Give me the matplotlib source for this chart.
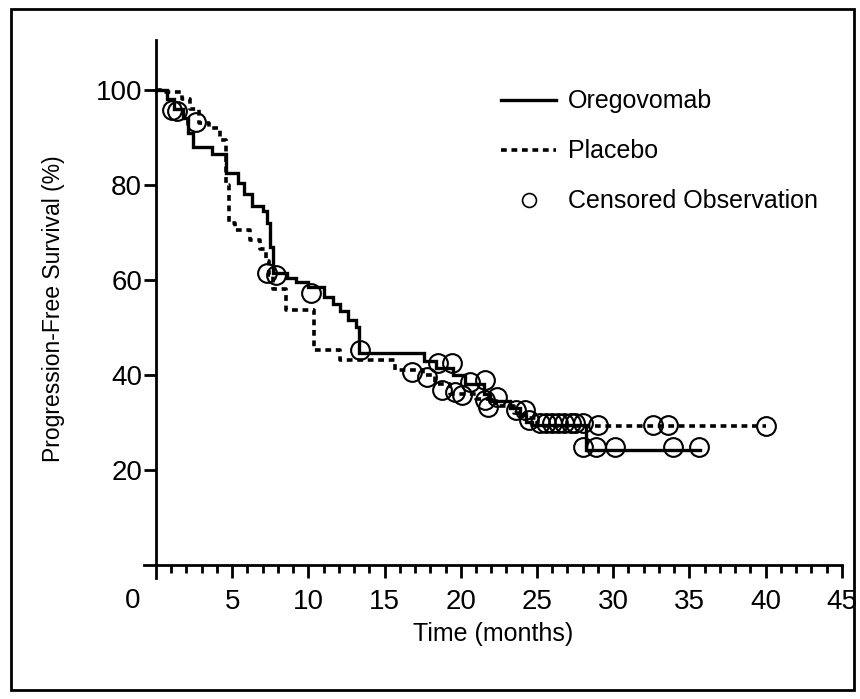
import matplotlib.pyplot as plt
from matplotlib.lines import Line2D
from matplotlib.patches import Rectangle


# Kaplan-Meier steps: time (months) where the curve changes, and level after it
OREGO_TIMES = [0, 0.7, 1.2, 1.8, 2.1, 2.4, 3.7, 4.6, 5.4, 5.8, 6.3, 7.0, 7.3,
               7.5, 7.7, 8.6, 9.2, 10.0, 11.0, 11.6, 12.1, 12.6, 13.1, 13.3,
               17.6, 18.4, 19.5, 20.3, 21.5, 21.9, 23.2, 23.9, 24.3, 24.7,
               28.2, 35.7]
OREGO_PFS = [100, 98, 96, 94, 91, 88, 86.5, 82.5, 80.5, 78, 75.5, 74.5, 72,
             67, 61.5, 60.5, 59.5, 58.5, 56.5, 55, 53.5, 51.5, 50, 44.7,
             43, 41.5, 40, 38, 36, 34.5, 33, 31.5, 30, 29.5,
             24.3, 24.3]

PLACEBO_TIMES = [0, 0.5, 1.7, 2.2, 2.8, 3.5, 4.2, 4.6, 4.8, 5.2, 6.2, 6.8,
                 7.2, 7.4, 7.7, 8.5, 10.4, 12.1, 15.7, 17.5, 18.3, 19.3,
                 21.0, 22.3, 23.5, 24.3, 25.0, 40.0]
PLACEBO_PFS = [100, 99.5, 98, 96, 93, 92, 89.5, 80, 72, 70.5, 68.5, 66.5,
               64, 61, 58, 53.7, 45.3, 43.2, 41, 40, 38, 36,
               35, 33.5, 32, 31, 29.2, 29.2]

# censored observations
OREGO_CENS_T = [1.4, 7.9, 10.2, 13.4, 18.5, 19.4, 21.6, 24.2, 24.5, 25.2,
                26.0, 26.8, 27.5, 28.0, 28.9, 30.1, 33.9, 35.6]
OREGO_CENS_Y = [95.5, 61, 57.3, 45.3, 42.5, 42.5, 38.9, 32.6, 30.5, 29.9,
                29.9, 29.9, 29.9, 24.8, 24.8, 24.8, 24.8, 24.8]

PLACEBO_CENS_T = [1.05, 2.6, 7.3, 16.8, 17.8, 18.8, 19.6, 20.1, 20.6, 21.6,
                  21.8, 22.4, 23.6, 25.6, 26.4, 27.2, 28.0, 29.0, 32.6,
                  33.6, 40.0]
PLACEBO_CENS_Y = [95.8, 93.3, 61.5, 40.6, 39.6, 36.8, 36.4, 35.8, 38.5,
                  34.7, 33.3, 35.4, 32.6, 29.9, 29.9, 29.9, 29.9, 29.5,
                  29.5, 29.5, 29.2]

X_TICKS = [5, 10, 15, 20, 25, 30, 35, 40, 45]
Y_TICKS = [20, 40, 60, 80, 100]

DOTTED = (0, (1.6, 1.3))


def main() -> None:
    plt.rcParams["font.family"] = ["Liberation Sans", "DejaVu Sans"]

    fig = plt.figure(figsize=(8.6, 6.99), dpi=100)
    ax = fig.add_axes([0.1672, 0.1734, 0.8116, 0.7694])

    ax.step(OREGO_TIMES, OREGO_PFS, where="post", color="black",
            linewidth=2.4, solid_joinstyle="miter")
    ax.step(PLACEBO_TIMES, PLACEBO_PFS, where="post", color="black",
            linewidth=2.6, linestyle=DOTTED)

    for times, levels in ((OREGO_CENS_T, OREGO_CENS_Y),
                          (PLACEBO_CENS_T, PLACEBO_CENS_Y)):
        ax.plot(times, levels, linestyle="none", marker="o", markersize=13.5,
                markerfacecolor="none", markeredgecolor="black",
                markeredgewidth=1.5)

    ax.set_xlim(-0.8, 45.0)
    ax.set_ylim(-2.7, 110.5)

    for side in ("top", "right"):
        ax.spines[side].set_visible(False)
    ax.spines["left"].set_position(("data", 0))
    ax.spines["bottom"].set_position(("data", 0))
    for side in ("left", "bottom"):
        ax.spines[side].set_linewidth(2)

    ax.set_xticks(X_TICKS)
    ax.set_xticks(range(1, 46), minor=True)
    ax.set_yticks(Y_TICKS)
    ax.tick_params(axis="both", which="major", direction="out", length=9,
                   width=2, labelsize=20)
    ax.tick_params(axis="x", which="major", pad=8)
    ax.tick_params(axis="y", which="major", pad=1)
    ax.tick_params(axis="x", which="minor", direction="out", length=5.5,
                   width=2)
    ax.text(-1.5, -7.6, "0", fontsize=20, ha="center", va="center",
            clip_on=False)

    ax.set_xlabel("Time (months)", fontsize=18, labelpad=5)
    ax.set_ylabel("Progression-Free Survival (%)", fontsize=16.5,
                  labelpad=22)

    handles = [
        Line2D([], [], color="black", linewidth=2.4),
        Line2D([], [], color="black", linewidth=2.6, linestyle=DOTTED),
        Line2D([], [], linestyle="none", marker="o", markersize=10,
               markerfacecolor="none", markeredgecolor="black",
               markeredgewidth=1.2),
    ]
    labels = ["Oregovomab", "Placebo", "Censored Observation"]
    ax.legend(handles, labels, loc="upper left", bbox_to_anchor=(0.48, 0.95),
              frameon=False, fontsize=18, handlelength=2.2, handletextpad=0.45,
              labelspacing=1.04)

    fig.patches.append(Rectangle((11 / 860, 9 / 699), 843 / 860, 681 / 699,
                                 transform=fig.transFigure, fill=False,
                                 edgecolor="black", linewidth=2))

    fig.savefig("out.png", dpi=100)
    plt.close(fig)


if __name__ == "__main__":
    main()
